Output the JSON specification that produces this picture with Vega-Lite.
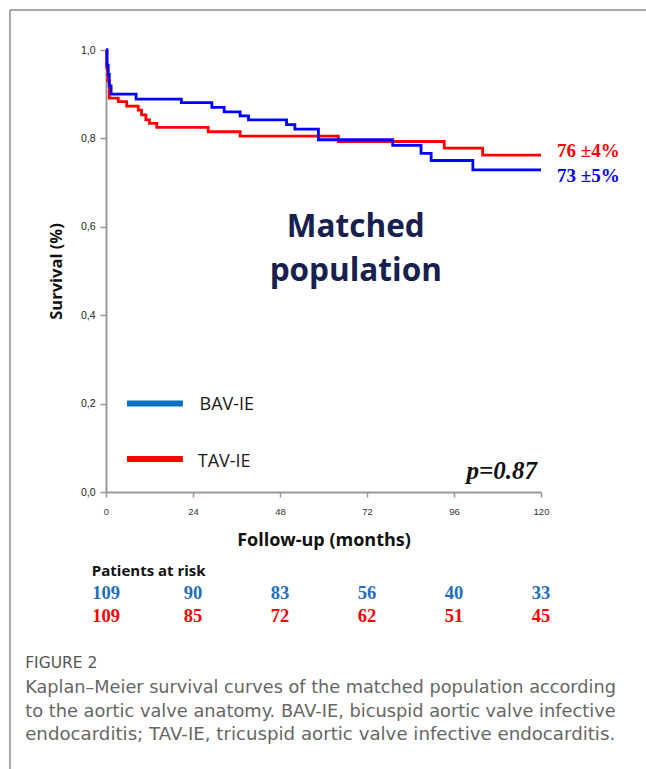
{
  "$schema": "https://vega.github.io/schema/vega-lite/v6.json",
  "width": 435,
  "height": 442,
  "autosize": "none",
  "padding": {"left": 106, "top": 50, "right": 105, "bottom": 277},
  "background": "white",
  "config": {"view": {"stroke": null}},
  "datasets": {
    "one": [{}],
    "curves": [
      {"group": "BAV-IE", "t": 0, "s": 1.0},
      {"group": "BAV-IE", "t": 0.3, "s": 0.966},
      {"group": "BAV-IE", "t": 0.6, "s": 0.945},
      {"group": "BAV-IE", "t": 0.9, "s": 0.919},
      {"group": "BAV-IE", "t": 1.4, "s": 0.9},
      {"group": "BAV-IE", "t": 8.3, "s": 0.889},
      {"group": "BAV-IE", "t": 20.8, "s": 0.881},
      {"group": "BAV-IE", "t": 29.2, "s": 0.87},
      {"group": "BAV-IE", "t": 32.6, "s": 0.86},
      {"group": "BAV-IE", "t": 37.0, "s": 0.851},
      {"group": "BAV-IE", "t": 39.3, "s": 0.842},
      {"group": "BAV-IE", "t": 49.8, "s": 0.831},
      {"group": "BAV-IE", "t": 52.1, "s": 0.821},
      {"group": "BAV-IE", "t": 58.6, "s": 0.797},
      {"group": "BAV-IE", "t": 79.1, "s": 0.784},
      {"group": "BAV-IE", "t": 86.9, "s": 0.766},
      {"group": "BAV-IE", "t": 89.7, "s": 0.75},
      {"group": "BAV-IE", "t": 101.2, "s": 0.729},
      {"group": "BAV-IE", "t": 120, "s": 0.729},
      {"group": "TAV-IE", "t": 0, "s": 1.0},
      {"group": "TAV-IE", "t": 0.2, "s": 0.96},
      {"group": "TAV-IE", "t": 0.5, "s": 0.93},
      {"group": "TAV-IE", "t": 0.9, "s": 0.891},
      {"group": "TAV-IE", "t": 3.4, "s": 0.883},
      {"group": "TAV-IE", "t": 5.7, "s": 0.873},
      {"group": "TAV-IE", "t": 8.9, "s": 0.864},
      {"group": "TAV-IE", "t": 9.8, "s": 0.853},
      {"group": "TAV-IE", "t": 11.0, "s": 0.842},
      {"group": "TAV-IE", "t": 12.0, "s": 0.834},
      {"group": "TAV-IE", "t": 14.0, "s": 0.825},
      {"group": "TAV-IE", "t": 28.2, "s": 0.815},
      {"group": "TAV-IE", "t": 37.0, "s": 0.805},
      {"group": "TAV-IE", "t": 64.1, "s": 0.793},
      {"group": "TAV-IE", "t": 93.3, "s": 0.778},
      {"group": "TAV-IE", "t": 103.9, "s": 0.762},
      {"group": "TAV-IE", "t": 120, "s": 0.762}
    ],
    "risk": [
      {"group": "BAV-IE", "t": 0, "n": 109},
      {"group": "BAV-IE", "t": 24, "n": 90},
      {"group": "BAV-IE", "t": 48, "n": 83},
      {"group": "BAV-IE", "t": 72, "n": 56},
      {"group": "BAV-IE", "t": 96, "n": 40},
      {"group": "BAV-IE", "t": 120, "n": 33},
      {"group": "TAV-IE", "t": 0, "n": 109},
      {"group": "TAV-IE", "t": 24, "n": 85},
      {"group": "TAV-IE", "t": 48, "n": 72},
      {"group": "TAV-IE", "t": 72, "n": 62},
      {"group": "TAV-IE", "t": 96, "n": 51},
      {"group": "TAV-IE", "t": 120, "n": 45}
    ]
  },
  "layer": [
    {
      "data": {"name": "curves"},
      "transform": [{"filter": "datum.group === 'TAV-IE'"}],
      "mark": {"type": "line", "interpolate": "step-after", "color": "#ff0000", "strokeWidth": 2.8},
      "encoding": {
        "x": {"field": "t", "type": "quantitative",
          "scale": {"domain": [0, 120], "nice": false, "zero": false},
          "axis": {"values": [0, 24, 48, 72, 96, 120], "grid": false, "labelFlush": false,
            "domainColor": "#999999", "domainWidth": 2, "tickColor": "#999999", "tickWidth": 1.5, "tickSize": 5,
            "labelFont": "Liberation Sans", "labelFontSize": 9.5, "labelColor": "#333333", "labelPadding": 9,
            "title": "Follow-up (months)", "titleFont": "Open Sans", "titleFontWeight": "bold", "titleFontSize": 18,
            "titleColor": "#111111", "titlePadding": 16}},
        "y": {"field": "s", "type": "quantitative",
          "scale": {"domain": [0, 1], "nice": false, "zero": false},
          "axis": {"values": [0, 0.2, 0.4, 0.6, 0.8, 1.0], "grid": false, "labelFlush": false,
            "labelExpr": "replace(format(datum.value, '.1f'), '.', ',')",
            "domainColor": "#999999", "domainWidth": 2, "tickColor": "#999999", "tickWidth": 1.5, "tickSize": 6,
            "labelFont": "Liberation Sans", "labelFontSize": 10.5, "labelColor": "#222222", "labelPadding": 5,
            "title": "Survival (%)", "titleFont": "Open Sans", "titleFontWeight": "bold", "titleFontSize": 16.5,
            "titleColor": "#111111", "titlePadding": 16}}
      }
    },
    {
      "data": {"name": "curves"},
      "transform": [{"filter": "datum.group === 'BAV-IE'"}],
      "mark": {"type": "line", "interpolate": "step-after", "color": "#0000ff", "strokeWidth": 2.8},
      "encoding": {
        "x": {"field": "t", "type": "quantitative"},
        "y": {"field": "s", "type": "quantitative"}
      }
    },
    {
      "data": {"name": "risk"},
      "transform": [{"filter": "datum.group === 'BAV-IE'"}],
      "mark": {"type": "text", "font": "Liberation Serif", "fontWeight": "bold", "fontSize": 18.5, "color": "#1f6fc0", "align": "center", "baseline": "alphabetic"},
      "encoding": {
        "x": {"field": "t", "type": "quantitative"},
        "y": {"datum": -0.2428},
        "text": {"field": "n"}
      }
    },
    {
      "data": {"name": "risk"},
      "transform": [{"filter": "datum.group === 'TAV-IE'"}],
      "mark": {"type": "text", "font": "Liberation Serif", "fontWeight": "bold", "fontSize": 18.5, "color": "#ff0000", "align": "center", "baseline": "alphabetic"},
      "encoding": {
        "x": {"field": "t", "type": "quantitative"},
        "y": {"datum": -0.2934},
        "text": {"field": "n"}
      }
    },
    {
      "data": {"name": "one"},
      "mark": {"type": "text", "text": "Patients at risk", "font": "Open Sans", "fontWeight": "bold", "fontSize": 15, "color": "#111111", "align": "left", "baseline": "alphabetic"},
      "encoding": {"x": {"datum": -3.9}, "y": {"datum": -0.19}}
    },
    {
      "data": {"name": "one"},
      "mark": {"type": "rule", "color": "#0070c0", "strokeWidth": 6, "strokeCap": "butt"},
      "encoding": {"x": {"datum": 5.8}, "x2": {"datum": 21.2}, "y": {"datum": 0.2}}
    },
    {
      "data": {"name": "one"},
      "mark": {"type": "rule", "color": "#ff0000", "strokeWidth": 6, "strokeCap": "butt"},
      "encoding": {"x": {"datum": 5.8}, "x2": {"datum": 21.2}, "y": {"datum": 0.0747}}
    },
    {
      "data": {"name": "one"},
      "mark": {"type": "text", "text": "BAV-IE", "font": "Open Sans", "fontSize": 18, "color": "#1a1a1a", "align": "left", "baseline": "alphabetic"},
      "encoding": {"x": {"datum": 25.8}, "y": {"datum": 0.1855}}
    },
    {
      "data": {"name": "one"},
      "mark": {"type": "text", "text": "TAV-IE", "font": "Open Sans", "fontSize": 18, "color": "#1a1a1a", "align": "left", "baseline": "alphabetic"},
      "encoding": {"x": {"datum": 25.3}, "y": {"datum": 0.0572}}
    },
    {
      "data": {"name": "one"},
      "mark": {"type": "text", "text": ["Matched", "population"], "font": "Open Sans", "fontWeight": "bold", "fontSize": 31.5, "lineHeight": 44, "color": "#172150", "align": "center", "baseline": "middle"},
      "encoding": {"x": {"datum": 68.9}, "y": {"datum": 0.597}}
    },
    {
      "data": {"name": "one"},
      "mark": {"type": "text", "text": "76 ±4%", "font": "Liberation Serif", "fontWeight": "bold", "fontSize": 19, "color": "#ff0000", "align": "left", "baseline": "alphabetic"},
      "encoding": {"x": {"datum": 124.4}, "y": {"datum": 0.7586}}
    },
    {
      "data": {"name": "one"},
      "mark": {"type": "text", "text": "73 ±5%", "font": "Liberation Serif", "fontWeight": "bold", "fontSize": 19, "color": "#0000ff", "align": "left", "baseline": "alphabetic"},
      "encoding": {"x": {"datum": 124.4}, "y": {"datum": 0.702}}
    },
    {
      "data": {"name": "one"},
      "mark": {"type": "text", "text": "p=0.87", "font": "Liberation Serif", "fontWeight": "bold", "fontStyle": "italic", "fontSize": 25, "color": "#111111", "align": "right", "baseline": "alphabetic"},
      "encoding": {"x": {"datum": 118.9}, "y": {"datum": 0.0305}}
    },
    {
      "data": {"name": "one"},
      "mark": {"type": "text", "text": "FIGURE 2", "font": "DejaVu Sans", "fontSize": 15.5, "color": "#555555", "align": "left", "baseline": "alphabetic"},
      "encoding": {"x": {"datum": -22.3}, "y": {"datum": -0.398}}
    },
    {
      "data": {"name": "one"},
      "mark": {"type": "text", "text": "Kaplan–Meier survival curves of the matched population according", "font": "DejaVu Sans", "fontSize": 17.7, "color": "#666666", "align": "left", "baseline": "alphabetic"},
      "encoding": {"x": {"datum": -22.3}, "y": {"datum": -0.4548}}
    },
    {
      "data": {"name": "one"},
      "mark": {"type": "text", "text": "to the aortic valve anatomy. BAV-IE, bicuspid aortic valve infective", "font": "DejaVu Sans", "fontSize": 17.8, "color": "#666666", "align": "left", "baseline": "alphabetic"},
      "encoding": {"x": {"datum": -22.3}, "y": {"datum": -0.508}}
    },
    {
      "data": {"name": "one"},
      "mark": {"type": "text", "text": "endocarditis; TAV-IE, tricuspid aortic valve infective endocarditis.", "font": "DejaVu Sans", "fontSize": 18.2, "color": "#666666", "align": "left", "baseline": "alphabetic"},
      "encoding": {"x": {"datum": -22.3}, "y": {"datum": -0.5612}}
    },
    {
      "data": {"name": "one"},
      "mark": {"type": "rule", "color": "#8a8a8a", "strokeWidth": 1.5},
      "encoding": {"x": {"datum": -26.5}, "x2": {"datum": 150}, "y": {"datum": 1.0905}}
    },
    {
      "data": {"name": "one"},
      "mark": {"type": "rule", "color": "#8a8a8a", "strokeWidth": 1.5},
      "encoding": {"x": {"datum": -26.5}, "y": {"datum": 1.0905}, "y2": {"datum": -0.7}}
    }
  ]
}
